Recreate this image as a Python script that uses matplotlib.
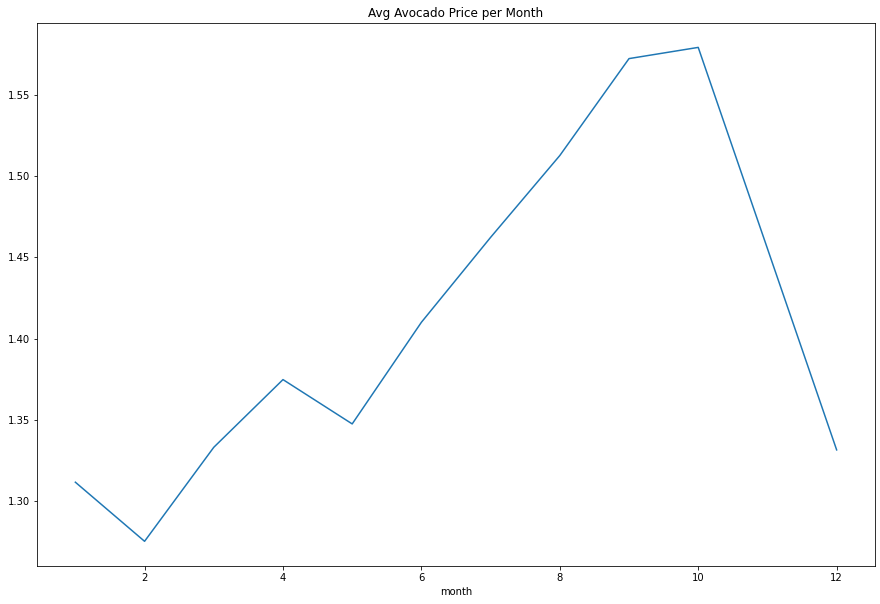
import matplotlib
matplotlib.use('Agg')
import matplotlib.pyplot as plt

months = [1, 2, 3, 4, 5, 6, 7, 8, 9, 10, 11, 12]
avg_price = [1.3115, 1.2751, 1.3330, 1.3747, 1.3474, 1.4100,
             1.4623, 1.5127, 1.5724, 1.5793, 1.4554, 1.3314]

dpi = 72
fig = plt.figure(figsize=(880 / dpi, 604 / dpi), dpi=dpi)
fig.patch.set_facecolor('white')
ax = fig.add_axes([37.3 / 880, (604 - 566) / 604,
                   (874.7 - 37.3) / 880, (566 - 22.7) / 604])

ax.plot(months, avg_price, color='#1f77b4')
ax.set_title('Avg Avocado Price per Month')
ax.set_xlabel('month')

fig.savefig('out.png', dpi=dpi)
